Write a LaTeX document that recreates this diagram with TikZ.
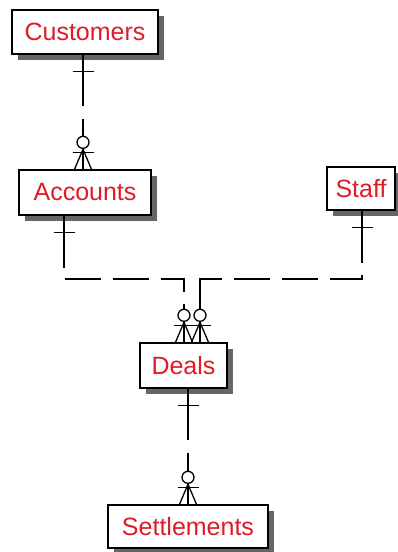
\documentclass[tikz,border=0pt]{standalone}
\usepackage{fontspec}
\setmainfont{Liberation Sans}
\usetikzlibrary{shadows}
\definecolor{entred}{RGB}{222,28,40}
\tikzset{
  entity/.style={draw=black, line width=1.4pt, fill=white, inner sep=0pt,
    text=entred, font=\fontsize{25}{30}\selectfont,
    drop shadow={shadow xshift=6pt, shadow yshift=-6pt, fill=black!60, opacity=1}},
  rel/.style={line width=1.3pt, black},
  relshort/.style={rel, dash pattern=on 51pt off 13pt on 300pt off 1pt},
  relbus/.style={rel, dash pattern=on 52pt off 12pt on 36pt off 12pt on 36pt off 12pt on 36pt off 12pt on 300pt off 1pt},
  % mandatory "one" bar, placed on the edge of the parent box
  onebar/.pic={\draw[line width=1.3pt] (-10.5,17) -- (10.5,17);},
  % optional "many" crow's foot, placed on the edge of the child box
  zeromany/.pic={
    \draw[line width=1.3pt] (-8.5,0) -- (0,-20) -- (8.5,0);
    \draw[line width=1.3pt] (-10.5,-16.5) -- (10.5,-16.5);
    \draw[line width=1.3pt, fill=white] (0,-27) circle (6);
  }
}
\begin{document}
\begin{tikzpicture}[x=1pt, y=-1pt]
\useasboundingbox (0,0) rectangle (398,552);

% entities
\node[entity, minimum width=146pt, minimum height=44pt] (cust) at (85,32) {Customers};
\node[entity, minimum width=132pt, minimum height=45pt] (acc)  at (85,192.5) {Accounts};
\node[entity, minimum width=68pt,  minimum height=43pt] (staff) at (361,188.5) {Staff};
\node[entity, minimum width=87pt,  minimum height=45pt] (deals) at (183.5,365.5) {Deals};
\node[entity, minimum width=160pt, minimum height=43pt] (sett) at (188,526.5) {Settlements};

\coordinate (bus) at (200,279);

% relationships
\draw[relshort] ([xshift=-2pt]cust.south) -- ([xshift=-2pt]acc.north);
\draw[relbus] ([xshift=-21pt]acc.south) -- ([xshift=-21pt]acc.south |- bus)
  -| ([xshift=0.5pt]deals.north);
\draw[relbus] ([xshift=1pt]staff.south) -- ([xshift=1pt]staff.south |- bus)
  -| ([xshift=16.5pt]deals.north);
\draw[relshort] ([xshift=4.5pt]deals.south) -- (sett.north);

% cardinality marks
\pic at ([xshift=-2pt]cust.south) {onebar};
\pic at ([xshift=-2pt]acc.north) {zeromany};
\pic at ([xshift=-21pt]acc.south) {onebar};
\pic at ([xshift=1pt]staff.south) {onebar};
\pic at ([xshift=0.5pt]deals.north) {zeromany};
\pic at ([xshift=16.5pt]deals.north) {zeromany};
\pic at ([xshift=4.5pt]deals.south) {onebar};
\pic at (sett.north) {zeromany};
\end{tikzpicture}
\end{document}
